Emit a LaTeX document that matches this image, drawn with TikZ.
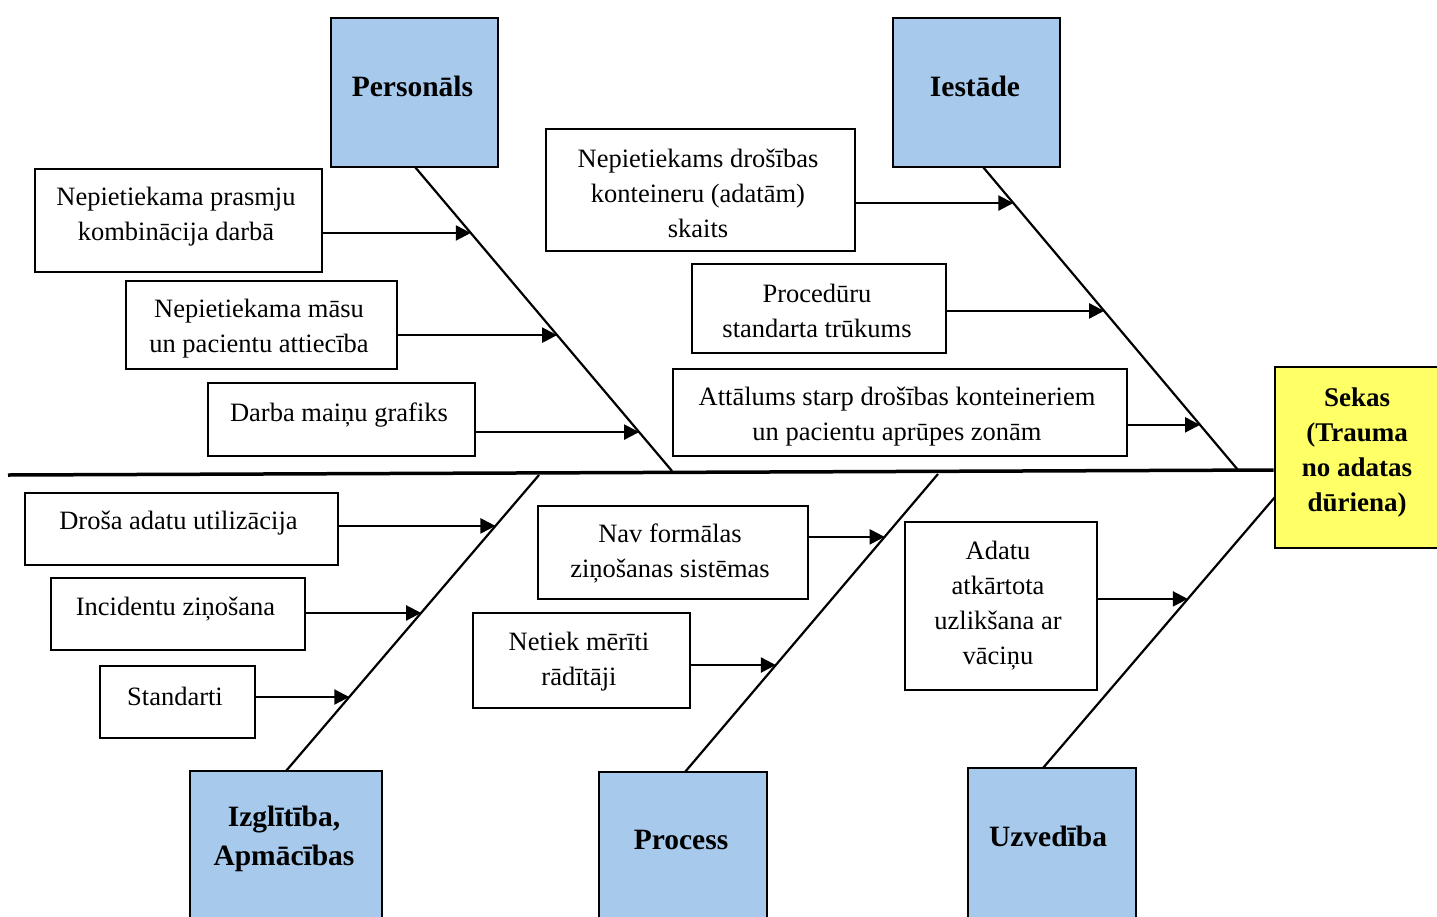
\documentclass[tikz,border=0pt]{standalone}
\usepackage{fontspec}
\setmainfont{Liberation Serif}
\usetikzlibrary{arrows.meta,calc}
\definecolor{catblue}{RGB}{167,202,236}
\definecolor{sekyel}{RGB}{255,255,102}
\begin{document}
\begin{tikzpicture}[x=1pt,y=-1pt,
  cat/.style={draw=black,line width=2.6pt,fill=catblue,inner sep=0pt},
  sek/.style={draw=black,line width=2.6pt,fill=sekyel,inner sep=0pt},
  cbox/.style={draw=black,line width=2.2pt,inner sep=0pt},
  txt/.style={align=center,inner sep=0pt,font=\fontsize{26.5}{35}\selectfont},
  btxt/.style={align=center,inner sep=0pt,font=\fontsize{29.5}{39}\selectfont\bfseries},
  stxt/.style={align=center,inner sep=0pt,font=\fontsize{27}{35.3}\selectfont\bfseries},
  spine/.style={line width=3.5pt},
  bone/.style={line width=2.2pt},
  arr/.style={line width=2.3pt,-{Triangle[length=15pt,width=15pt]}}]
\clip (0,0) rectangle (1437,916);
\fill[white] (0,0) rectangle (1437,916);

% category boxes
\node[cat,minimum width=167,minimum height=149] (pers) at (414.5,92.5) {};
\node[cat,minimum width=167,minimum height=149] (iest) at (976.5,92.5) {};
\node[cat,minimum width=192,minimum height=159] (izg) at (286,850.5) {};
\node[cat,minimum width=168,minimum height=158] (proc) at (683,851) {};
\node[cat,minimum width=168,minimum height=162] (uzv) at (1052,849) {};
\node[sek,minimum width=165,minimum height=181] (sekas) at (1357.5,457.5) {};

\node[btxt] (tpers) at (412.5,86) {Personāls};
\node[btxt] (tiest) at (975,86) {Iestāde};
\node[btxt] (tizg) at (284,838.5) {Izglītība,\\Apmācības};
\node[btxt] (tproc) at (681,840) {Process};
\node[btxt] (tuzv) at (1048,836) {Uzvedība};
\node[stxt] (tsek) at (1357,452.5) {Sekas\\(Trauma\\no adatas\\dūriena)};

% spine and bones
\coordinate (sL) at (8,475);
\coordinate (sR) at ($(sekas.west)+(0,12.5)$);
\draw[spine] (sL) -- (sR);

\coordinate (pTop) at (415,167);   \coordinate (j1) at (672,471);
\coordinate (iTop) at (983,167);   \coordinate (j2) at (1238,470);
\coordinate (j3) at (539,475);     \coordinate (zBot) at (286,771);
\coordinate (j4) at (938,474);     \coordinate (rBot) at (685,772);
\coordinate (sW) at (1275,497);    \coordinate (uBot) at (1043,768);
\draw[bone] (pTop) -- (j1);
\draw[bone] (iTop) -- (j2);
\draw[bone] (j3) -- (zBot);
\draw[bone] (j4) -- (rBot);
\draw[bone] (sW) -- (uBot);

\path (pTop) -- (j1) coordinate[pos=0.217] (e1) coordinate[pos=0.553] (e2) coordinate[pos=0.872] (e3);
\path (iTop) -- (j2) coordinate[pos=0.119] (e4) coordinate[pos=0.475] (e5) coordinate[pos=0.851] (e6);
\path (j3) -- (zBot) coordinate[pos=0.172] (e7) coordinate[pos=0.466] (e8) coordinate[pos=0.750] (e9);
\path (j4) -- (rBot) coordinate[pos=0.211] (e10) coordinate[pos=0.641] (e11);
\path (sW) -- (uBot) coordinate[pos=0.376] (e12);

% cause boxes
\node[cbox,minimum width=287,minimum height=103] (c1) at (178.5,220.5) {};
\node[cbox,minimum width=271,minimum height=88] (c2) at (261.5,325) {};
\node[cbox,minimum width=267,minimum height=73] (c3) at (341.5,419.5) {};
\node[cbox,minimum width=309,minimum height=122] (c4) at (700.5,190) {};
\node[cbox,minimum width=254,minimum height=89] (c5) at (819,308.5) {};
\node[cbox,minimum width=454,minimum height=87] (c6) at (900,412.5) {};
\node[cbox,minimum width=313,minimum height=72] (c7) at (181.5,529) {};
\node[cbox,minimum width=254,minimum height=72] (c8) at (178,614) {};
\node[cbox,minimum width=155,minimum height=72] (c9) at (177.5,702) {};
\node[cbox,minimum width=270,minimum height=93] (c10) at (673,552.5) {};
\node[cbox,minimum width=217,minimum height=95] (c11) at (581.5,660.5) {};
\node[cbox,minimum width=192,minimum height=168] (c12) at (1001,606) {};

\node[txt] (t1) at (176,217) {Nepietiekama prasmju\\kombinācija darbā};
\node[txt] (t2) at (259,328.5) {Nepietiekama māsu\\un pacientu attiecība};
\node[txt] (t3) at (339,415.5) {Darba maiņu grafiks};
\node[txt] (t4) at (698,193) {Nepietiekams drošības\\konteineru (adatām)\\skaits};
\node[txt] (t5) at (817,311) {Procedūru\\standarta trūkums};
\node[txt] (t6) at (897,416.5) {Attālums starp drošības konteineriem\\un pacientu aprūpes zonām};
\node[txt] (t7) at (178.5,523.5) {Droša adatu utilizācija};
\node[txt] (t8) at (175.5,609.5) {Incidentu ziņošana};
\node[txt] (t9) at (175,696.5) {Standarti};
\node[txt] (t10) at (670,553) {Nav formālas\\ziņošanas sistēmas};
\node[txt] (t11) at (579,661.5) {Netiek mērīti\\rādītāji};
\node[txt] (t12) at (998,605.5) {Adatu\\atkārtota\\uzlikšana ar\\vāciņu};

% arrows
\foreach \i in {1,...,12}{
  \draw[arr] (c\i.east |- e\i) -- (e\i);
}
\end{tikzpicture}
\end{document}
